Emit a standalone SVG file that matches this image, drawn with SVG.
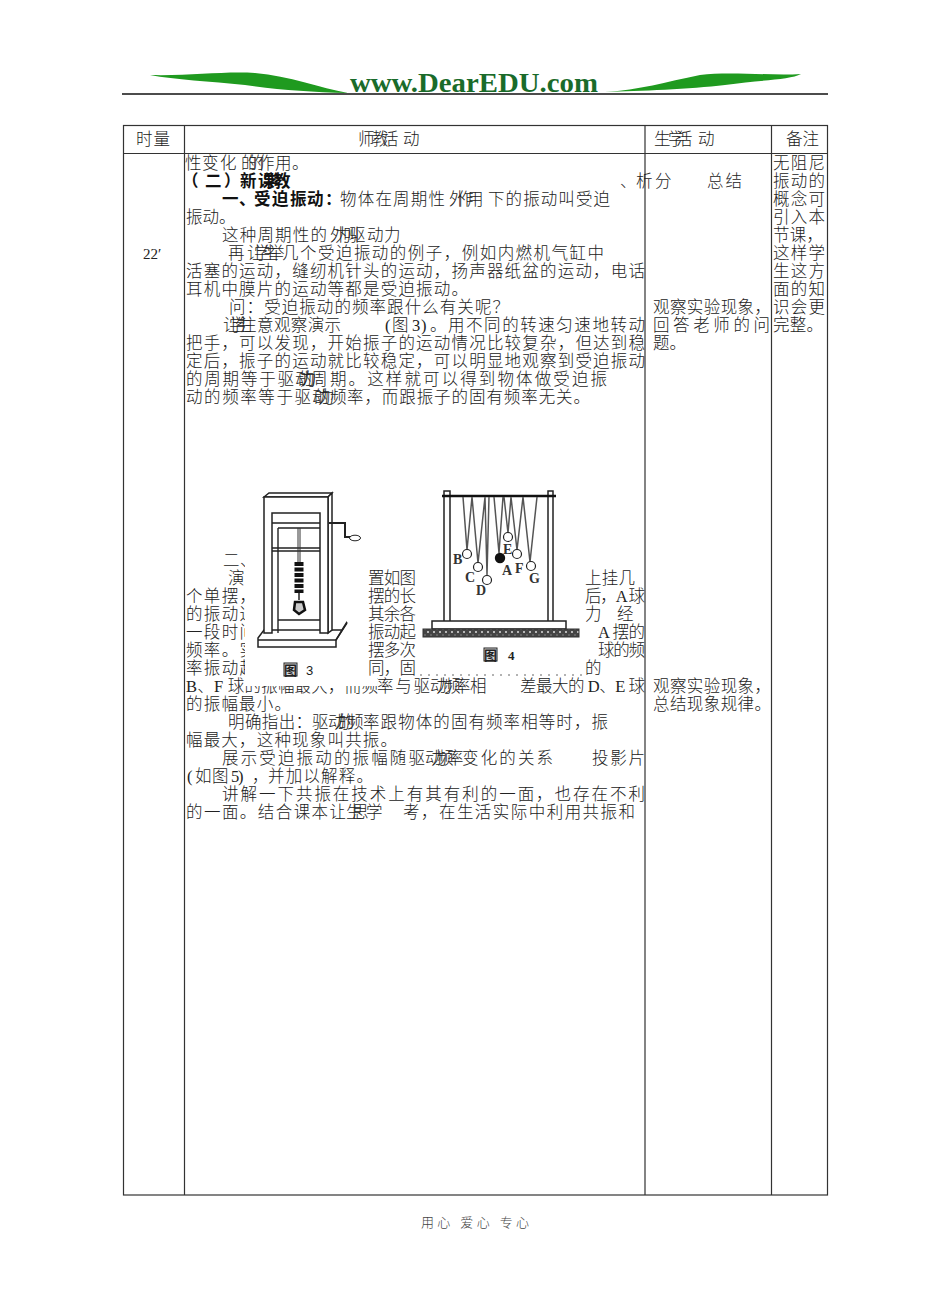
<svg xmlns="http://www.w3.org/2000/svg" width="950" height="1316" viewBox="0 0 950 1316">
<style>
text{font-family:"Liberation Serif","Noto Sans CJK SC",serif;font-size:16.5px;font-weight:300;fill:#222}
.b{font-weight:700;fill:#111}
.t{stroke:#333;stroke-width:1.2;fill:none}
.f{stroke:#222;stroke-width:1.5;fill:#fff}
.l{stroke:#222;stroke-width:1.4;fill:none}
.s{stroke:#555;stroke-width:1.5;fill:none}
.c{fill:#fff;stroke:#222;stroke-width:1.2}
.m{font-size:14px;font-family:"Liberation Serif","Noto Sans CJK SC",serif;font-weight:700;fill:#333}
.w{fill:#fff}
</style>
<defs>
<pattern id="h" width="6" height="6" patternUnits="userSpaceOnUse"><rect width="6" height="6" fill="#444"/><circle cx="2" cy="2" r="1" fill="#ddd"/><circle cx="5" cy="5" r=".7" fill="#999"/></pattern>
</defs>
<rect width="950" height="1316" fill="#fff"/>
<g id="logo">
<path d="M150 75C190 76 225 71 255 73C290 76 320 88 348 93C310 92 280 90 245 85C210 81 175 80 150 75Z" fill="#1f9a1f"/>
<path d="M605 92C640 90 665 82 700 75C730 71 770 76 801 74C790 80 760 80 725 85C690 89 640 91 605 92Z" fill="#1f9a1f"/>
<text x="350" y="92" textLength="248" lengthAdjust="spacingAndGlyphs" style="font-family:'Liberation Serif',serif;font-weight:700;font-size:28px;fill:#1a6b2a">www.DearEDU.com</text>
<path d="M122 94H828" stroke="#111" stroke-width="1.5"/>
</g>
<g id="table">
<rect class="t" x="123.5" y="125.5" width="704" height="1069.5"/>
<path class="t" d="M184.5 125V1195M645 125V1195M771.5 125V1195M123 153.5H828"/>
</g>
<g id="header">
<text x="136" y="145" textLength="34">时量</text>
<text x="358 372 382 403" y="145">师教活动</text>
<text x="654 668 676 698" y="145">生学活动</text>
<text x="786" y="145" textLength="33">备注</text>
<text x="143" y="259" style="font-size:15px">22′</text>
</g>
<g id="body">
<text x="185 202 220 241 248 258 275 292" y="169">性变化的的作用。</text>
<text class="b" x="182 205 224 240 258 263 274" y="187">（二）新课学教</text><text x="620 636" y="187">、析</text>
<text class="b" x="222 239 254 272 290 307 325" y="205">一、受迫振动：</text><text x="340" y="205" textLength="105">物体在周期性</text><text x="449 457 467" y="205">外作用</text><text x="488" y="205" textLength="122">下的振动叫受迫</text>
<text x="186" y="223">振动。</text>
<text x="222" y="241" textLength="105">这种周期性的</text><text x="330 335 343 349 367 384" y="241">外力叫驱动力</text>
<text x="228" y="259">再</text><text x="247 254 262 268" y="259">让学生举</text><text x="282" y="259" textLength="322">几个受迫振动的例子，例如内燃机气缸中</text>
<text x="186" y="277" textLength="459">活塞的运动，缝纫机针头的运动，扬声器纸盆的运动，电话</text>
<text x="186" y="295" textLength="282">耳机中膜片的运动等都是受迫振动。</text>
<text x="229" y="313" textLength="280">问：受迫振动的频率跟什么有关呢？</text>
<text x="223 229 235 240" y="331">让学生注</text><text x="257" y="331" textLength="84">意观察演示</text><text x="385 392 408 412 421 430" y="331">(图 3)。</text><text x="448" y="331" textLength="197">用不同的转速匀速地转动</text>
<text x="186" y="349" textLength="459">把手，可以发现，开始振子的运动情况比较复杂，但达到稳</text>
<text x="186" y="367" textLength="459">定后，振子的运动就比较稳定，可以明显地观察到受迫振动</text>
<text x="186" y="385" textLength="108">的周期等于驱</text><text x="295 300 298 311" y="385">动力的周</text><text x="330" y="385" textLength="277">期。这样就可以得到物体做受迫振</text>
<text x="186" y="403" textLength="125">动的频率等于驱</text><text x="312 318 314 330" y="403">动力的频</text><text x="347" y="403" textLength="243">率，而跟振子的固有频率无关。</text>
<text x="223 240" y="566">二、</text>
<text x="228" y="584">演</text>
<text x="186" y="602" textLength="70">个单摆，</text>
<text x="186" y="620" textLength="70">的振动通</text>
<text x="186" y="638" textLength="70">一段时间</text>
<text x="186" y="656" textLength="70">频率。实</text>
<text x="186" y="674" textLength="70">率振动起</text>
<text x="186" y="692" textLength="192">B、F 球的振幅最大，而频</text><text x="377" y="692" textLength="53">率与驱</text><text x="430 436 444 454 470" y="692">动力频率相</text><text x="520" y="692" textLength="125">差最大的 D、E 球</text>
<text x="186" y="710" textLength="105">的振幅最小。</text>
<text x="228" y="728" textLength="84">明确指出：</text><text x="312" y="728">驱</text><text x="328 334 338 347" y="728">动力的频</text><text x="363" y="728" textLength="245">率跟物体的固有频率相等时，振</text>
<text x="186" y="746" textLength="211">幅最大，这种现象叫共振。</text>
<text x="222" y="764" textLength="203">展示受迫振动的振幅随驱</text><text x="425 431 437 447" y="764">动力频率</text><text x="462" y="764" textLength="91">变化的关系</text><text x="592" y="764" textLength="53">投影片</text>
<text x="187 195 212 228 231 238 252" y="782">(如图 5)，</text><text x="268" y="782" textLength="105">并加以解释。</text>
<text x="222" y="800" textLength="423">讲解一下共振在技术上有其有利的一面，也存在不利</text>
<text x="186" y="818" textLength="160">的一面。结合课本让</text><text x="346 352 366" y="818">生思学</text><text x="403" y="818" textLength="232">考，在生活实际中利用共振和</text>
<rect class="w" x="245" y="488" width="123" height="198"/>
<rect class="w" x="368" y="677" width="9" height="9"/>
<rect class="w" x="417" y="488" width="168" height="186"/>
<path d="M420 675H585" stroke="#666" stroke-width="1" stroke-dasharray="2 6"/>
<text x="368" y="584" textLength="48">置如图</text>
<text x="368" y="602" textLength="48">摆的长</text>
<text x="368" y="620" textLength="48">其余各</text>
<text x="368" y="638" textLength="48">振动起</text>
<text x="368" y="656" textLength="48">摆多次</text>
<text x="368" y="674" textLength="48">同，固</text>
<text x="585" y="584" textLength="50">上挂几</text>
<text x="585" y="602" textLength="60">后，A 球</text>
<text x="585 617" y="620">力经</text>
<text x="598" y="638" textLength="47">A 摆的</text>
<text x="598" y="656" textLength="47">球的频</text>
<text x="585" y="674">的</text>
</g>
<g id="student">
<text x="655" y="187">分</text><text x="707" y="187" textLength="35">总结</text>
<text x="653" y="313" textLength="118">观察实验现象，</text>
<text x="653" y="331" textLength="117">回答老师的问</text>
<text x="653" y="349">题。</text>
<text x="653" y="692" textLength="118">观察实验现象，</text>
<text x="653" y="710" textLength="118">总结现象规律。</text>
</g>
<g id="notes">
<text x="773" y="169" textLength="52">无阻尼</text>
<text x="773" y="187" textLength="52">振动的</text>
<text x="773" y="205" textLength="52">概念可</text>
<text x="773" y="223" textLength="52">引入本</text>
<text x="773" y="241" textLength="50">节课，</text>
<text x="773" y="259" textLength="52">这样学</text>
<text x="773" y="277" textLength="52">生这方</text>
<text x="773" y="295" textLength="52">面的知</text>
<text x="773" y="313" textLength="52">识会更</text>
<text x="773" y="331" textLength="50">完整。</text>
</g>
<g id="figure3">
<path class="f" d="M258 638L264 630H342L347 622L336 640V647H258Z"/>
<path class="l" d="M258 640H336L347 623"/>
<path class="f" d="M264 497L269 493H332L328 497Z"/>
<path class="f" d="M328 497L332 493V630L328 633Z"/>
<path class="f" d="M264 497H328V633H320V513H272V633H264Z"/>
<path class="l" d="M272 523H320M278 528H320M278 528V633M272 548H320M272 551H320M278 620H320"/>
<path d="M329 523H345V537H351" fill="none" stroke="#222" stroke-width="2"/>
<ellipse cx="355" cy="538" rx="5.5" ry="2.8" fill="#fff" stroke="#222"/>
<path d="M298 528V562M300 528V562" stroke="#333" stroke-width="1"/>
<path d="M299 562V593" stroke="#111" stroke-width="9" stroke-dasharray="4 1.5"/>
<path d="M299 593V600" stroke="#222" stroke-width="1.5"/>
<path d="M295 602L303 602L305 610L299 614L294 610Z" fill="#ccc" stroke="#111" stroke-width="2.5"/>
<rect x="284" y="663" width="13" height="13" fill="#ddd" stroke="#222"/>
<text x="284" y="675" style="font-size:13px;font-weight:700">图</text>
<text x="306" y="675" style="font-size:13px;font-family:'Liberation Sans',sans-serif">3</text>
</g>
<g id="figure4">
<path class="f" d="M444 491H450V622H444ZM548 491H553V622H548Z"/>
<path d="M442 496H556" stroke="#111" stroke-width="2.5"/>
<rect class="f" x="432" y="621" width="134" height="8"/>
<rect x="423" y="629" width="156" height="8" fill="url(#h)" stroke="#333"/>
<path class="s" d="M463 497L467 550M472 497L467 550M472 497L478 563M485 497L478 563M485 497L487 575M489 497L487 575M494 497L499 553M503 497L499 553M504 497L508 533M511 497L508 533M511 497L517 550M523 497L517 550M523 497L530 562M537 497L530 562"/>
<circle class="c" cx="467" cy="554" r="4.5"/><circle class="c" cx="478" cy="567" r="4.5"/><circle class="c" cx="487" cy="580" r="4.5"/>
<circle cx="500" cy="558" r="5.2" fill="#111"/>
<circle class="c" cx="508" cy="537" r="4.5"/><circle class="c" cx="517" cy="554" r="4.5"/><circle class="c" cx="531" cy="566" r="4.5"/>
<text class="m" x="453" y="564">B</text><text class="m" x="465" y="582">C</text><text class="m" x="476" y="595">D</text><text class="m" x="502" y="575">A</text><text class="m" x="503" y="554">E</text><text class="m" x="515" y="573">F</text><text class="m" x="529" y="583">G</text>
<rect x="484" y="648" width="13" height="13" fill="#ddd" stroke="#222"/>
<text x="484" y="660" style="font-size:13px;font-weight:700">图</text>
<text x="508" y="660" style="font-size:13px;font-weight:700">4</text>
</g>
<g id="footer"><text x="421" y="1227" textLength="108" style="font-size:13px;fill:#444">用心 爱心 专心</text></g>
</svg>
